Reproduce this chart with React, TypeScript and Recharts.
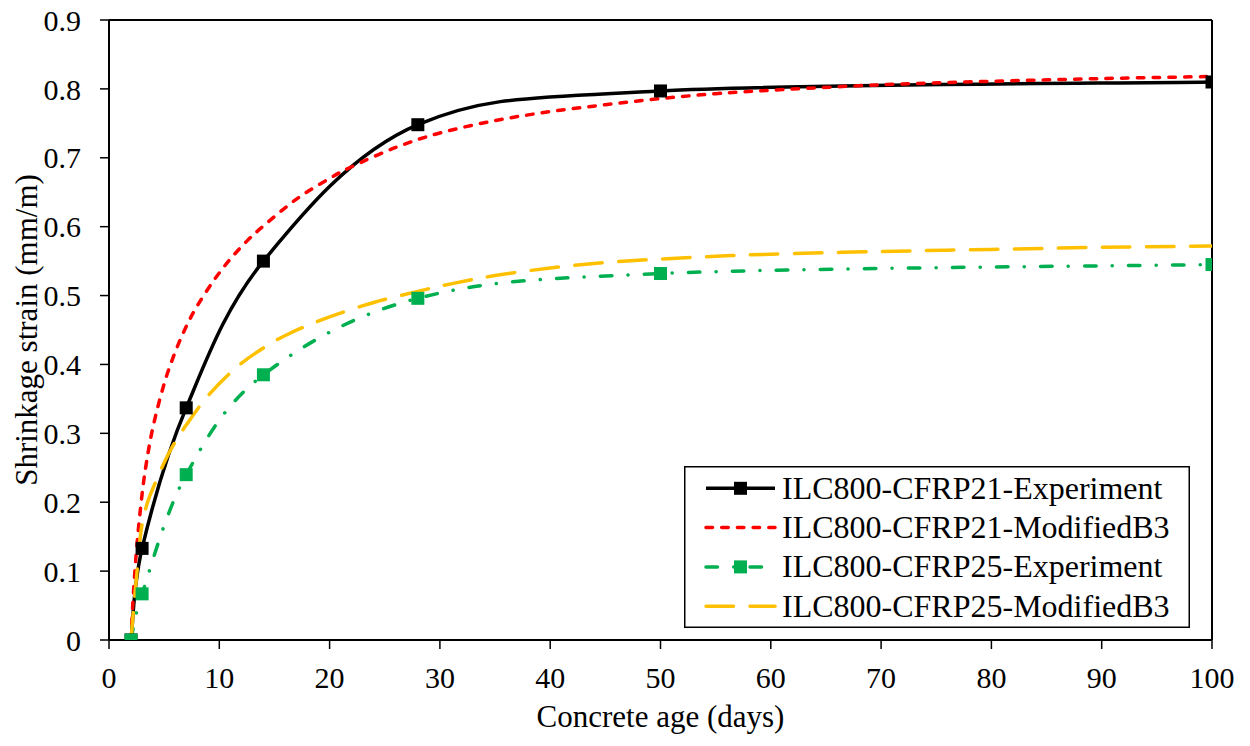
import { LineChart, Line, XAxis, YAxis, ReferenceLine, Legend } from "recharts";

document.body.style.margin = "0";

const FONT = "'Times New Roman', Times, Tinos, 'Noto Serif', FreeSerif, 'DejaVu Serif', 'Liberation Serif', serif";

// measured ages (days) and shrinkage strain (mm/m)
const expDays = [2, 3, 7, 14, 28, 50, 100];
const cfrp21Exp = [0, 0.133, 0.337, 0.55, 0.748, 0.797, 0.81];
const cfrp25Exp = [0, 0.067, 0.24, 0.385, 0.496, 0.532, 0.545];

// Modified B3 model curves
const b3Days21 = [2, 2.15, 2.35, 2.6, 3, 3.4, 4, 5, 6, 7, 8, 9.5, 11, 12.5, 14, 17, 20, 22, 26, 30, 35, 40, 45, 50, 55, 60, 70, 80, 90, 100];
const cfrp21B3 = [0, 0.05, 0.1, 0.15, 0.212, 0.258, 0.31, 0.372, 0.418, 0.455, 0.485, 0.522, 0.553, 0.579, 0.601, 0.64, 0.67, 0.687, 0.715, 0.736, 0.754, 0.767, 0.777, 0.786, 0.793, 0.798, 0.806, 0.811, 0.815, 0.818];
const b3Days25 = [2, 2.2, 2.5, 2.9, 3.4, 3.9, 4.9, 5.8, 7, 9, 11.5, 14, 16.5, 20, 24, 28, 31, 35, 40, 45, 50, 55, 60, 70, 80, 90, 100];
const cfrp25B3 = [0, 0.04, 0.092, 0.158, 0.195, 0.217, 0.254, 0.282, 0.312, 0.355, 0.395, 0.424, 0.446, 0.469, 0.49, 0.506, 0.517, 0.529, 0.54, 0.548, 0.553, 0.557, 0.56, 0.564, 0.567, 0.57, 0.572];

const xTicks = [0, 10, 20, 30, 40, 50, 60, 70, 80, 90, 100];
const yTicks = [0, 0.1, 0.2, 0.3, 0.4, 0.5, 0.6, 0.7, 0.8, 0.9];

const toPoints = (xs: number[], ys: number[]) => xs.map((x, i) => ({ x, y: ys[i] }));

const series = [
  { name: "ILC800-CFRP21-Experiment", color: "#000000", dash: undefined, marker: true, data: toPoints(expDays, cfrp21Exp) },
  { name: "ILC800-CFRP21-ModifiedB3", color: "#FF0000", dash: "6.5 9.2", marker: false, data: toPoints(b3Days21, cfrp21B3) },
  { name: "ILC800-CFRP25-Experiment", color: "#00B050", dash: "11.5 16.2 0.1 16.2", marker: true, data: toPoints(expDays, cfrp25Exp) },
  { name: "ILC800-CFRP25-ModifiedB3", color: "#FFC000", dash: "27.5 16.5", marker: false, data: toPoints(b3Days25, cfrp25B3) },
];

// Excel-like smoothed line (Catmull-Rom as cubic beziers)
const excelSmooth = (context: any) => {
  let pts: number[][] = [];
  return {
    areaStart() {},
    areaEnd() {},
    lineStart() { pts = []; },
    point(x: number, y: number) { pts.push([+x, +y]); },
    lineEnd() {
      const n = pts.length;
      if (!n) return;
      context.moveTo(pts[0][0], pts[0][1]);
      for (let i = 0; i < n - 1; i++) {
        const p0 = pts[Math.max(i - 1, 0)], p1 = pts[i], p2 = pts[i + 1], p3 = pts[Math.min(i + 2, n - 1)];
        context.bezierCurveTo(
          p1[0] + (p2[0] - p0[0]) / 6, p1[1] + (p2[1] - p0[1]) / 6,
          p2[0] - (p3[0] - p1[0]) / 6, p2[1] - (p3[1] - p1[1]) / 6,
          p2[0], p2[1],
        );
      }
    },
  };
};

const SquareDot = (color: string) => (props: any) => {
  const { cx, cy, index } = props;
  if (cx == null || cy == null) return <g key={index} />;
  return <rect key={index} x={cx - 6.5} y={cy - 6.5} width={13} height={13} fill={color} />;
};

const LegendBox = () => (
  <svg width={506} height={162} style={{ display: "block" }}>
    <rect x={0.75} y={0.75} width={504.5} height={160.5} fill="#fff" stroke="#000" strokeWidth={1.5} />
    {series.map((s, i) => {
      const cy = 22.3 + i * 39.3;
      return (
        <g key={s.name}>
          <line x1={22} x2={91} y1={cy} y2={cy} stroke={s.color} strokeWidth={3.5}
                strokeDasharray={s.dash} strokeLinecap={s.dash ? "round" : "butt"} />
          {s.marker && <rect x={56.5 - 6.5} y={cy - 6.5} width={13} height={13} fill={s.color} />}
          <text x={98} y={cy + 10.5} style={{ fontFamily: FONT }} fontSize={32} fill="#000">{s.name}</text>
        </g>
      );
    })}
  </svg>
);

export default function App() {
  return (
    <LineChart width={1250} height={746} margin={{ top: 20, right: 38, bottom: 14, left: 8 }}
               style={{ background: "#fff", fontFamily: FONT }}>
      <XAxis type="number" dataKey="x" domain={[0, 100]} ticks={xTicks} allowDataOverflow
             height={92} tickSize={9} tickMargin={18}
             axisLine={{ stroke: "#000", strokeWidth: 2 }} tickLine={{ stroke: "#000", strokeWidth: 1.5 }}
             tick={{ fill: "#000", fontSize: 30, style: { fontFamily: FONT } }}
             label={{ value: "Concrete age (days)", position: "insideBottom", offset: 5, fill: "#000", fontSize: 31,
                      style: { fontFamily: FONT } }} />
      <YAxis type="number" domain={[0, 0.9]} ticks={yTicks} allowDataOverflow
             width={101} tickSize={9} tickMargin={19} tickFormatter={(v: number) => String(v)}
             axisLine={{ stroke: "#000", strokeWidth: 2 }} tickLine={{ stroke: "#000", strokeWidth: 1.5 }}
             tick={{ fill: "#000", fontSize: 30, style: { fontFamily: FONT } }}
             label={{ value: "Shrinkage strain (mm/m)", angle: -90, position: "insideLeft", offset: 18,
                      fill: "#000", fontSize: 31, style: { textAnchor: "middle", fontFamily: FONT } }} />
      <ReferenceLine y={0.9} stroke="#000" strokeWidth={2} />
      <ReferenceLine x={100} stroke="#000" strokeWidth={2} />
      {series.map((s) => (
        <Line key={s.name} name={s.name} data={s.data} dataKey="y" type={excelSmooth as any}
              stroke={s.color} strokeWidth={3.5} strokeDasharray={s.dash}
              strokeLinecap={s.dash ? "round" : "butt"}
              dot={s.marker ? SquareDot(s.color) : false} activeDot={false}
              isAnimationActive={false} />
      ))}
      <Legend verticalAlign="middle" align="center" layout="horizontal"
              wrapperStyle={{ left: 684, top: 466, width: 506, height: 162 }}
              content={() => <LegendBox />} />
    </LineChart>
  );
}
